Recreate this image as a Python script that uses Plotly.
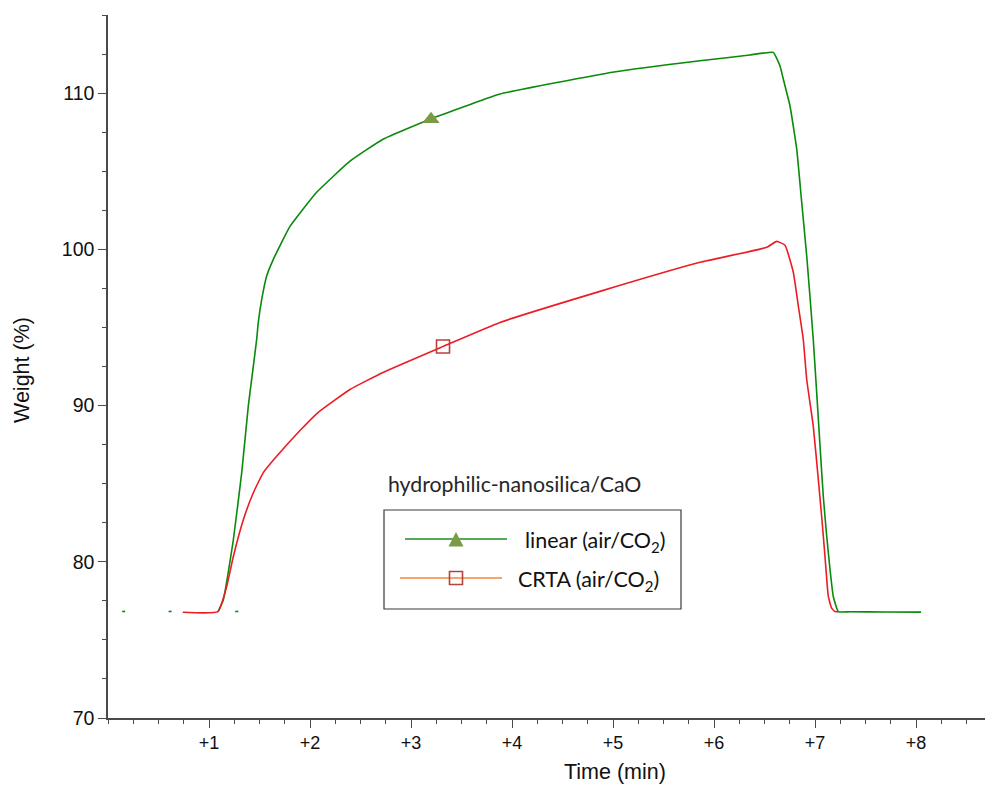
import plotly.graph_objects as go

# ---------------- data ----------------
linear_t = [0.14, 0.17, None, 0.6, 0.63, None, 1.26, 1.29, None,
            1.089, 1.142, 1.241, 1.324, 1.389, 1.439, 1.472, 1.488, 1.522, 1.571,
            1.637, 1.802, 2.066, 2.396, 2.723, 3.188, 3.551, 3.881, 5.01,
            5.861, 6.356, 6.485, 6.587, 6.653, 6.686, 6.752, 6.819, 6.868, 6.918,
            6.983, 7.050, 7.082, 7.116, 7.149, 7.181, 7.231, 7.35, 7.7, 8.05]
linear_w = [76.82, 76.82, None, 76.82, 76.82, None, 76.82, 76.82, None,
            76.81, 77.56, 81.41, 85.71, 89.96, 92.52, 94.23, 95.32, 96.79, 98.29,
            99.36, 101.47, 103.65, 105.64, 107.05, 108.33, 109.19, 109.94, 111.35,
            112.07, 112.44, 112.56, 112.61, 111.75, 110.9, 109.19, 106.41, 103.03, 99.57,
            94.23, 87.39, 84.19, 81.62, 79.49, 77.78, 76.81, 76.8, 76.79, 76.78]

crta_t = [0.74, 1.089, 1.175, 1.241, 1.34, 1.439, 1.538, 1.67, 1.901, 2.079, 2.396,
          2.723, 3.317, 3.881, 4.871, 5.861, 6.522, 6.621, 6.703, 6.785, 6.835, 6.884,
          6.918, 6.983, 7.033, 7.066, 7.099, 7.132, 7.165, 7.198, 7.228]
crta_w = [76.77, 76.81, 78.42, 80.34, 82.69, 84.42, 85.71, 86.75, 88.4, 89.55, 91.03,
          92.12, 93.78, 95.32, 97.31, 99.17, 100.13, 100.51, 100.26, 98.53, 96.37, 94.23,
          91.67, 88.67, 85.26, 82.9, 80.34, 77.78, 77.03, 76.81, 76.81]

linear_marker_t = [3.198]
linear_marker_w = [108.33]
crta_marker_t = [3.317]
crta_marker_w = [93.78]

x_tickvals = [1, 2, 3, 4, 5, 6, 7, 8]
x_ticktext = ["+1", "+2", "+3", "+4", "+5", "+6", "+7", "+8"]
y_tickvals = [70, 80, 90, 100, 110]

legend_title = "hydrophilic-nanosilica/CaO"
legend_labels = ["linear (air/CO<sub>2</sub>)", "CRTA (air/CO<sub>2</sub>)"]

# ---------------- figure ----------------
W, H = 985, 787
L, R, T, B = 108, 0, 15, 69
PW, PH = W - L - R, H - T - B


def px(x):
    return (x - L) / PW


def py(y):
    return (H - B - y) / PH


fig = go.Figure()
fig.add_trace(go.Scatter(x=linear_t, y=linear_w, mode="lines",
                         line=dict(color="#0A8A0A", width=1.6, shape="spline", smoothing=0.4),
                         showlegend=False, connectgaps=False))
fig.add_trace(go.Scatter(x=crta_t, y=crta_w, mode="lines",
                         line=dict(color="#EC1C24", width=1.6, shape="spline", smoothing=0.4),
                         showlegend=False))
fig.add_trace(go.Scatter(x=linear_marker_t, y=linear_marker_w, mode="markers",
                         marker=dict(symbol="triangle-up", size=15, color="#7A9A45",
                                     line=dict(width=0)), showlegend=False))
fig.add_trace(go.Scatter(x=crta_marker_t, y=crta_marker_w, mode="markers",
                         marker=dict(symbol="square-open", size=13, color="#B8403E",
                                     line=dict(width=1.6)), showlegend=False))

fig.update_layout(
    xaxis=dict(range=[0, PW / 101.0], tickmode="array", tickvals=x_tickvals, ticktext=x_ticktext,
               showgrid=False, zeroline=False, showline=True,
               linecolor="#4A4A4A", linewidth=1.5, ticks="outside",
               tickcolor="#4A4A4A", tickwidth=1.3, ticklen=8,
               tickfont=dict(family="Arial", size=18, color="#111111"),
               minor=dict(dtick=0.25, tick0=0, ticks="outside", ticklen=4,
                          tickcolor="#4A4A4A", tickwidth=1.3)),
    yaxis=dict(range=[70, 115], tickmode="array", tickvals=y_tickvals,
               showgrid=False, zeroline=False, showline=True,
               linecolor="#4A4A4A", linewidth=1.5, ticks="outside",
               tickcolor="#4A4A4A", tickwidth=1.3, ticklen=8,
               tickfont=dict(family="Arial", size=19.5, color="#111111"),
               minor=dict(dtick=2.5, tick0=70, ticks="outside", ticklen=4,
                          tickcolor="#4A4A4A", tickwidth=1.3)),
)

shapes = []
# legend box
shapes.append(dict(type="rect", xref="paper", yref="paper",
                   x0=px(384), x1=px(681), y0=py(609), y1=py(510),
                   line=dict(color="#3A3A3A", width=1.2), fillcolor="rgba(0,0,0,0)"))
# legend lines
shapes.append(dict(type="line", xref="paper", yref="paper",
                   x0=px(405), x1=px(507), y0=py(539), y1=py(539),
                   line=dict(color="#1E8C1E", width=1.6)))
shapes.append(dict(type="line", xref="paper", yref="paper",
                   x0=px(400), x1=px(502), y0=py(578), y1=py(578),
                   line=dict(color="#F0883A", width=1.6)))
# legend triangle
tri = [(448.5, 546.5), (463.5, 546.5), (456, 532)]
path = "M {} {} L {} {} L {} {} Z".format(*[v for p in tri for v in (px(p[0]), py(p[1]))])
shapes.append(dict(type="path", xref="paper", yref="paper", path=path,
                   fillcolor="#7A9A45", line=dict(width=0)))
# legend square
shapes.append(dict(type="rect", xref="paper", yref="paper",
                   x0=px(449.5), x1=px(462.5), y0=py(584.5), y1=py(571.5),
                   fillcolor="rgba(255,255,255,0)", line=dict(color="#B8403E", width=1.6)))

annotations = [
    dict(text=legend_title, xref="paper", yref="paper", x=px(386), y=py(484),
         xanchor="left", yanchor="middle", showarrow=False,
         font=dict(family="Lato", size=21.3, color="#262626")),
    dict(text=legend_labels[0], xref="paper", yref="paper", x=px(523), y=py(541),
         xanchor="left", yanchor="middle", showarrow=False,
         font=dict(family="Lato", size=21.5, color="#111111")),
    dict(text=legend_labels[1], xref="paper", yref="paper", x=px(516), y=py(580),
         xanchor="left", yanchor="middle", showarrow=False,
         font=dict(family="Lato", size=21.5, color="#111111")),
    dict(text="Time (min)", xref="paper", yref="paper", x=px(615), y=py(772),
         xanchor="center", yanchor="middle", showarrow=False,
         font=dict(family="Arial", size=21.5, color="#111111")),
    dict(text="Weight (%)", xref="paper", yref="paper", x=px(22), y=py(370),
         xanchor="center", yanchor="middle", showarrow=False, textangle=-90,
         font=dict(family="Arial", size=21.5, color="#111111")),
]

fig.update_layout(width=W, height=H, margin=dict(l=L, r=R, t=T, b=B),
                  plot_bgcolor="white", paper_bgcolor="white",
                  shapes=shapes, annotations=annotations, showlegend=False)

fig.write_html("out.html", config={"displayModeBar": False},
               post_script="document.body.style.margin='0';")
